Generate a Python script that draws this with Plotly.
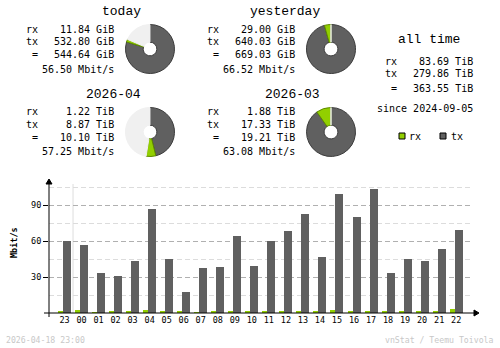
import plotly.graph_objects as go

W, H = 500, 348
FONT = "DejaVu Sans Mono"
TFONT = "Liberation Mono"

# ---------------- data ----------------
hours = ["23", "00", "01", "02", "03", "04", "05", "06", "07", "08", "09", "10",
         "11", "12", "13", "14", "15", "16", "17", "18", "19", "20", "21", "22"]
rx_rate = [1.0, 2.5, 0.2, 1.0, 1.0, 2.5, 1.0, 1.0, 0.2, 1.0, 1.0, 1.0,
           1.0, 2.0, 2.0, 1.0, 2.5, 2.0, 2.0, 2.0, 1.0, 1.0, 1.0, 3.5]
tx_rate = [60.0, 56.7, 33.3, 30.8, 43.3, 86.7, 45.0, 17.5, 37.5, 38.3, 64.2, 39.4,
           60.0, 68.3, 82.5, 46.7, 99.2, 80.0, 103.3, 33.3, 45.0, 43.3, 53.3, 69.2]
y_ticks = [30, 60, 90]
y_minor = [15, 45, 75, 105]

periods = ["today", "yesterday", "2026-04", "2026-03"]
rx_text = ["11.84 GiB", "29.00 GiB", "1.22 TiB", "1.88 TiB"]
tx_text = ["532.80 GiB", "640.03 GiB", "8.87 TiB", "17.33 TiB"]
total_text = ["544.64 GiB", "669.03 GiB", "10.10 TiB", "19.21 TiB"]
rate_text = ["56.50 Mbit/s", "66.52 Mbit/s", "57.25 Mbit/s", "63.08 Mbit/s"]
rx_vals = [11.84, 29.00, 1.22, 1.88]
tx_vals = [532.80, 640.03, 8.87, 17.33]
pie_max = [669.03, 669.03, 19.21, 19.21]

alltime_rx = "83.69 TiB"
alltime_tx = "279.86 TiB"
alltime_total = "363.55 TiB"
since_text = "since 2024-09-05"
stamp_text = "2026-04-18 23:00"
credit_text = "vnStat / Teemu Toivola"

# ---------------- colors ----------------
C_RX = "#92CF00"
C_TX = "#606060"
C_RX_D = "#5E8A00"
C_TX_D = "#3C3C3C"
C_BG = "#F0F0F0"
C_LINE = "#B0B0B0"
C_LINE_L = "#DCDCDC"


def px(x):
    return x / W


def py(y):
    return 1 - y / H


fig = go.Figure()

# ---------------- bar chart ----------------
PLOT_L, PLOT_R = 49, 473
Y0, YTOP = 313, 181
STEP = 17.03
C0 = 64.5
x_lo = (PLOT_L - C0) / STEP
x_hi = (PLOT_R - C0) / STEP
idx = list(range(len(hours)))

fig.add_trace(go.Bar(x=idx, y=rx_rate, marker=dict(color=C_RX, line=dict(width=0)),
                     offset=-6.5 / STEP, width=5 / STEP, showlegend=False, name="rx"))
fig.add_trace(go.Bar(x=idx, y=tx_rate, marker=dict(color=C_TX, line=dict(width=0)),
                     offset=-1.5 / STEP, width=8 / STEP, showlegend=False, name="tx"))

# ---------------- donuts ----------------
centers = [(150, 49), (331, 49), (150, 132), (331, 132)]
R = 24.5
for i in range(4):
    cx, cy = centers[i]
    rest = max(pie_max[i] - rx_vals[i] - tx_vals[i], 0)
    fig.add_trace(go.Pie(
        values=[tx_vals[i], rx_vals[i], rest],
        labels=["tx", "rx", "rest"],
        sort=False, direction="clockwise", rotation=0,
        hole=0.28, textinfo="none", showlegend=False,
        marker=dict(colors=[C_TX, C_RX, C_BG],
                    line=dict(color=[C_TX_D, C_RX_D, C_BG], width=1)),
        domain=dict(x=[px(cx - R), px(cx + R)], y=[py(cy + R), py(cy - R)]),
    ))

annotations = []


def text(x, y, s, size=10, anchor="left", color="#000000", angle=0, bold=False, family=FONT):
    if bold:
        s = "<b>" + s + "</b>"
    annotations.append(dict(x=px(x), y=py(y), xref="paper", yref="paper", text=s,
                            showarrow=False, xanchor=anchor, yanchor="middle",
                            borderpad=0, textangle=angle,
                            font=dict(family=family, size=size, color=color)))


# summary blocks
blocks = [
    dict(label_x=25, val_r=115, title_r=142, title_y=11.7),
    dict(label_x=206, val_r=295.5, title_r=321, title_y=11.7),
    dict(label_x=25, val_r=115, title_r=142, title_y=94.3),
    dict(label_x=206, val_r=295.5, title_r=321, title_y=94.3),
]
for i, b in enumerate(blocks):
    ty = b["title_y"]
    text(b["title_r"], ty, periods[i], size=13, anchor="right", family=TFONT)
    text(b["label_x"], ty + 17.3, "rx")
    text(b["val_r"], ty + 17.3, rx_text[i], anchor="right")
    text(b["label_x"], ty + 29.7, "tx")
    text(b["val_r"], ty + 29.7, tx_text[i], anchor="right")
    text(b["label_x"], ty + 43.0, " =")
    text(b["val_r"], ty + 43.0, total_text[i], anchor="right")
    text(b["val_r"], ty + 57.6, rate_text[i], anchor="right")

# all time
text(429, 39.3, "all time", size=13, anchor="center", family=TFONT)
text(384, 61.7, "rx")
text(474, 61.7, alltime_rx, anchor="right")
text(384, 73.3, "tx")
text(474, 73.3, alltime_tx, anchor="right")
text(384, 88.3, " =")
text(474, 88.3, alltime_total, anchor="right")
text(474, 108.3, since_text, anchor="right")

# legend
text(408, 136, "rx")
text(450, 136, "tx")

# axis title & footer
text(14, 243, "Mbit/s", size=8.5, anchor="center", angle=-90, bold=True)
text(5, 340, stamp_text, size=8.2, color="#C8C8C8")
text(495, 340, credit_text, size=8.2, anchor="right", color="#C8C8C8")

shapes = [
    # legend squares
    dict(type="rect", xref="paper", yref="paper", x0=px(399), x1=px(405), y0=py(139), y1=py(133),
         fillcolor=C_RX, line=dict(color="#000000", width=1)),
    dict(type="rect", xref="paper", yref="paper", x0=px(440), x1=px(446), y0=py(139), y1=py(133),
         fillcolor=C_TX, line=dict(color="#000000", width=1)),
    # day boundary line
    dict(type="line", xref="x", yref="y", x0=0.5, x1=0.5, y0=0, y1=107.5,
         line=dict(color="#DDDDDD", width=1), layer="below"),
    # x axis line
    dict(type="line", xref="paper", yref="paper", x0=px(44), x1=px(476), y0=py(Y0), y1=py(Y0),
         line=dict(color="#000000", width=1)),
    # y axis line
    dict(type="line", xref="paper", yref="paper", x0=px(PLOT_L), x1=px(PLOT_L), y0=py(317), y1=py(183),
         line=dict(color="#000000", width=1)),
    # arrow heads
    dict(type="path", xref="paper", yref="paper",
         path=f"M {px(474)} {py(Y0 - 3)} L {px(479)} {py(Y0)} L {px(474)} {py(Y0 + 3)} Z",
         fillcolor="#000000", line=dict(color="#000000", width=1)),
    dict(type="path", xref="paper", yref="paper",
         path=f"M {px(PLOT_L - 3)} {py(184)} L {px(PLOT_L)} {py(179)} L {px(PLOT_L + 3)} {py(184)} Z",
         fillcolor="#000000", line=dict(color="#000000", width=1)),
]

fig.update_layout(
    width=W, height=H,
    margin=dict(l=0, r=0, t=0, b=0),
    paper_bgcolor="#FFFFFF", plot_bgcolor="#FFFFFF",
    barmode="overlay", bargap=0,
    font=dict(family=FONT, color="#000000"),
    annotations=annotations, shapes=shapes,
    xaxis=dict(domain=[px(PLOT_L), px(PLOT_R)], range=[x_lo, x_hi],
               tickvals=idx, ticktext=hours, showgrid=False, zeroline=False,
               showline=False, ticks="", fixedrange=True,
               tickfont=dict(family=FONT, size=8.5, color="#000000")),
    yaxis=dict(domain=[py(Y0), py(YTOP)], range=[0, 110],
               tickvals=y_ticks, showgrid=True, gridcolor=C_LINE, griddash="5px,3px",
               gridwidth=1, zeroline=False, showline=False,
               ticks="outside", ticklen=5, tickcolor="#000000", tickwidth=1,
               tickfont=dict(family=FONT, size=8.5, color="#000000"),
               minor=dict(tickvals=y_minor, showgrid=True, gridcolor=C_LINE_L,
                          griddash="5px,3px", gridwidth=1, ticks=""),
               fixedrange=True),
)

fig.write_html("out.html")
